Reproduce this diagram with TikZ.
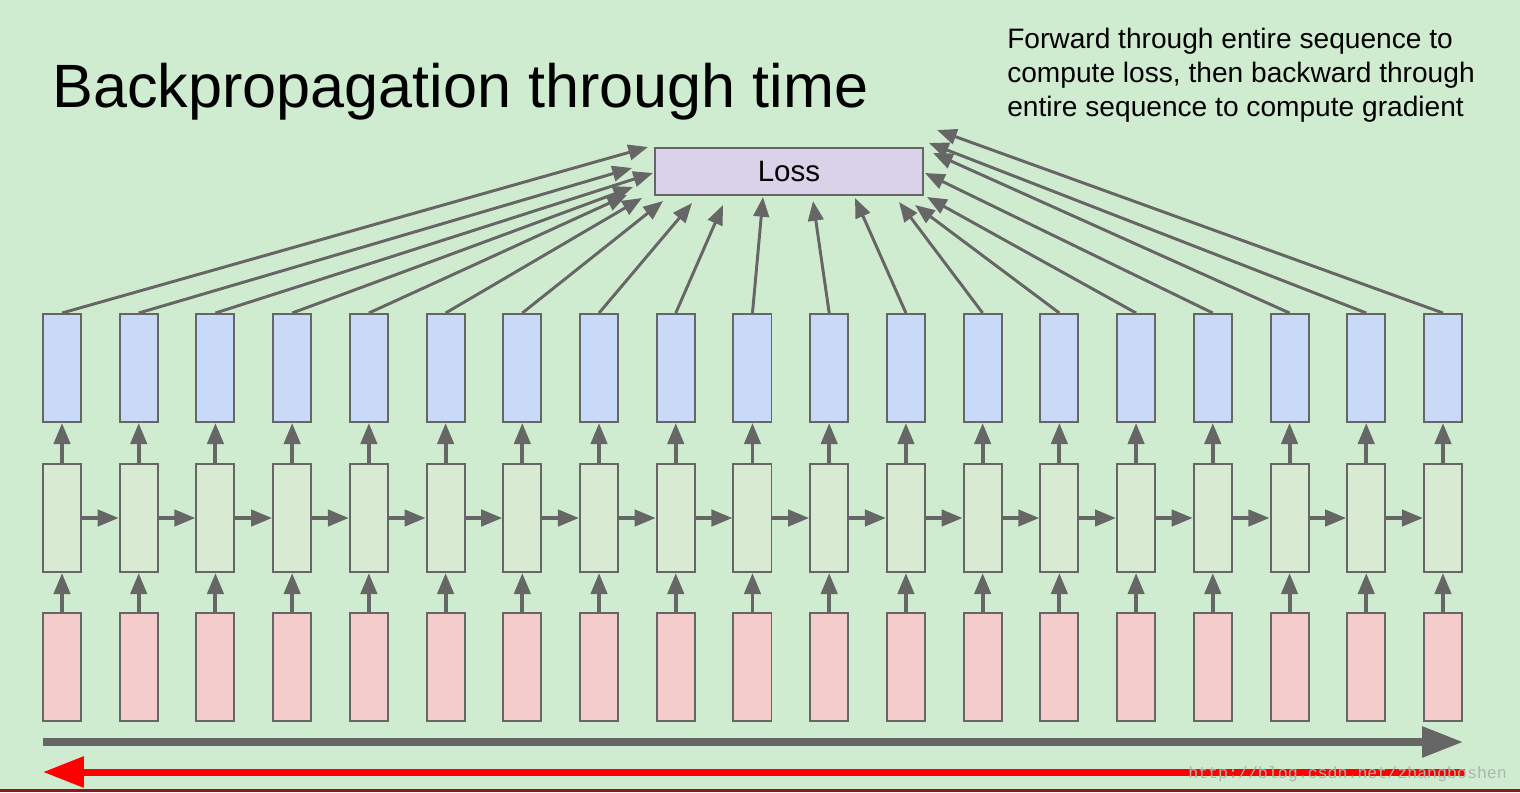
\documentclass[tikz,border=0pt]{standalone}
\usepackage{fontspec}
\setmainfont{Liberation Sans}
\newfontfamily\markfont{Liberation Mono}
\usetikzlibrary{arrows.meta,positioning}

\definecolor{slidebg}{RGB}{208,236,208}
\definecolor{edgegray}{RGB}{102,102,102}
\definecolor{outblue}{RGB}{201,218,248}
\definecolor{hidgreen}{RGB}{217,234,211}
\definecolor{inred}{RGB}{244,204,204}
\definecolor{losspurple}{RGB}{217,210,233}
\definecolor{footred}{RGB}{140,24,24}
\definecolor{markgray}{RGB}{170,182,170}

\begin{document}
\begin{tikzpicture}[
  x=0.025cm, y=-0.025cm,
  cell/.style={rectangle, draw=edgegray, line width=1.4pt, minimum width=0.95cm, minimum height=2.7cm, inner sep=0pt},
  outcell/.style={cell, fill=outblue},
  hidcell/.style={cell, fill=hidgreen},
  incell/.style={cell, fill=inred},
  lossbox/.style={rectangle, draw=edgegray, line width=1.4pt, fill=losspurple, minimum width=6.7cm, minimum height=1.175cm, inner sep=0pt, font=\fontsize{21pt}{24pt}\selectfont},
  steparrow/.style={-{Triangle[length=15pt, width=11.5pt]}, draw=edgegray, fill=edgegray, line width=2.8pt},
  lossarrow/.style={-{Triangle[length=14pt, width=11pt]}, draw=edgegray, fill=edgegray, line width=2.1pt},
  timearrow/.style={-{Triangle[length=29pt, width=21pt]}, line width=5pt}
]

% Slide background and frame
\useasboundingbox (0,0) rectangle (1520,792);
\fill[slidebg] (0,0) rectangle (1520,792);
\fill[footred] (0,789) rectangle (1520,792);

% Title and note
\node[anchor=base west, inner sep=0pt, font=\fontsize{43.5pt}{50pt}\selectfont] (title) at (52,107) {Backpropagation through time};
\node[anchor=north west, inner sep=0pt, align=left, font=\fontsize{20pt}{24.2pt}\selectfont] (note) at (1007,28) {Forward through entire sequence to\\compute loss, then backward through\\entire sequence to compute gradient};

% Loss
\node[lossbox] (loss) at (789,171.5) {Loss};

% Unrolled cells
\foreach \i in {0,...,18} {
  \node[outcell] (o\i) at ({62+76.72*\i},368) {};
  \node[hidcell] (h\i) at ({62+76.72*\i},518) {};
  \node[incell]  (x\i) at ({62+76.72*\i},667) {};
  \draw[steparrow] (x\i.north) -- (h\i.south);
  \draw[steparrow] (h\i.north) -- (o\i.south);
}

% Hidden state recurrence
\foreach \i [count=\j from 1] in {0,...,17}
  \draw[steparrow] (h\i.east) -- (h\j.west);

% Outputs into the loss
\foreach \i/\tx/\ty in {0/648/147, 1/632/168, 2/653/173, 3/633/187, 4/627/195,
    5/642/198, 6/663/201, 7/692/203, 8/723/205, 9/763/197, 10/813/201,
    11/855/198, 12/899/202, 13/915/205, 14/927/197, 15/925/173, 16/933/153,
    17/929/143, 18/937/130} {
  \coordinate (t\i) at (\tx,\ty);
  \draw[lossarrow] (o\i.north) -- (t\i);
}

% Forward and backward passes
\coordinate (fwdA) at (43,742);
\coordinate (fwdB) at (1463,742);
\coordinate (bwdA) at (1465,772);
\coordinate (bwdB) at (43,772);
\draw[timearrow, draw=edgegray, fill=edgegray] (fwdA) -- (fwdB);
\draw[timearrow, draw=red, fill=red] (bwdA) -- (bwdB);

% Watermark
\node[anchor=base west, inner sep=0pt, text=markgray, font=\markfont\fontsize{11.8pt}{12pt}\selectfont] (mark) at (1188,778) {http://blog.csdn.net/zhangboshen};

\end{tikzpicture}
\end{document}
